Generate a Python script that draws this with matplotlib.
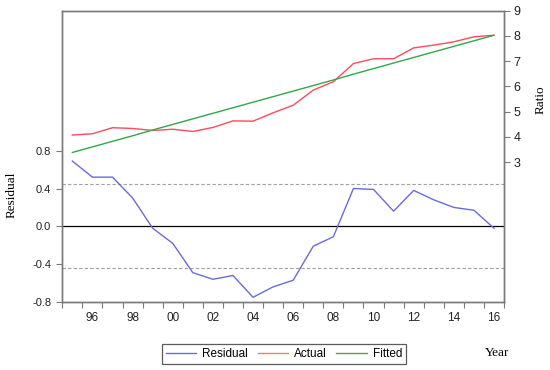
import matplotlib
matplotlib.use("Agg")
import matplotlib.pyplot as plt
from matplotlib.lines import Line2D

# Годы наблюдений
years = list(range(1995, 2017))

# Остатки регрессии (левая ось)
residual = [0.69, 0.52, 0.52, 0.30, -0.02, -0.18, -0.49, -0.56, -0.52, -0.75,
            -0.64, -0.57, -0.21, -0.11, 0.40, 0.39, 0.16, 0.38, 0.28, 0.20,
            0.17, -0.02]

# Фактические и расчётные значения (правая ось)
actual = [4.07, 4.12, 4.36, 4.33, 4.25, 4.30, 4.21, 4.37, 4.63, 4.62,
          4.95, 5.25, 5.85, 6.18, 6.90, 7.09, 7.09, 7.52, 7.63, 7.76,
          7.96, 8.02]
fitted = [3.38, 3.60, 3.82, 4.04, 4.27, 4.49, 4.71, 4.93, 5.15, 5.37,
          5.59, 5.81, 6.03, 6.25, 6.48, 6.70, 6.92, 7.14, 7.36, 7.58,
          7.80, 8.02]

resid_band = 0.443
resid_ticks = [-0.8, -0.4, 0.0, 0.4, 0.8]
ratio_ticks = [3, 4, 5, 6, 7, 8, 9]
year_labels = [1996, 1998, 2000, 2002, 2004, 2006, 2008, 2010, 2012, 2014, 2016]

C_RES = "#6a6ae0"
C_ACT = "#ff4a5c"
C_FIT = "#2fa84a"
C_FRAME = "#7a7a7a"

plt.rcParams["font.family"] = ["Liberation Sans", "DejaVu Sans"]

fig = plt.figure(figsize=(5.5, 3.7), dpi=100)
ax = fig.add_axes([0.1133, 0.1838, 0.8031, 0.7878])
ax2 = ax.twinx()

# остатки
ax.axhline(0.0, color="black", lw=0.9, zorder=1)
ax.axhline(resid_band, color="#a0a0a0", lw=0.8, ls=(0, (3, 2)), zorder=1)
ax.axhline(-resid_band, color="#a0a0a0", lw=0.8, ls=(0, (3, 2)), zorder=1)
ax.plot(years, residual, color=C_RES, lw=1.0, zorder=3)

ax2.plot(years, actual, color=C_ACT, lw=1.0)
ax2.plot(years, fitted, color=C_FIT, lw=1.0)

ax.set_xlim(1994.5, 2016.5)
ax.set_ylim(-0.8, 2.282)
ax2.set_ylim(-2.54, 9.0)

ax.set_yticks(resid_ticks)
ax.set_yticklabels([f"{v:.1f}" for v in resid_ticks])
ax2.set_yticks(ratio_ticks)

# деления по границам лет, подписи по центрам чётных лет
ax.set_xticks([y - 0.5 for y in years] + [years[-1] + 0.5])
ax.set_xticklabels([])
ax.set_xticks(year_labels, minor=True)
ax.set_xticklabels([f"{y % 100:02d}" for y in year_labels], minor=True)
ax.tick_params(axis="x", which="minor", length=0, pad=7, labelsize=8.5,
               labelcolor="#222222")
ax.tick_params(axis="x", which="major", length=4, width=0.8, color=C_FRAME)
ax.tick_params(axis="y", length=4, width=0.8, color=C_FRAME, labelsize=8,
               pad=4, labelcolor="#222222")
ax2.tick_params(axis="y", length=4, width=0.8, color=C_FRAME, labelsize=9,
                pad=3, labelcolor="#222222")

for a in (ax, ax2):
    for s in a.spines.values():
        s.set_color(C_FRAME)
        s.set_linewidth(1.0)

serif = ["Liberation Serif", "DejaVu Serif"]
fig.text(12 / 550, 1 - 195 / 370, "Residual", rotation=90, ha="center",
         va="center", family=serif, fontsize=9.5)
fig.text(541 / 550, 1 - 100 / 370, "Ratio", rotation=90, ha="center",
         va="center", family=serif, fontsize=9.5)
fig.text(497 / 550, 1 - 353 / 370, "Year", ha="center", va="center",
         family=serif, fontsize=9.5)

handles = [Line2D([], [], color=C_RES, lw=1.0),
           Line2D([], [], color="#d98a6a", lw=1.0),
           Line2D([], [], color="#5a9a5a", lw=1.0)]
leg = fig.legend(handles, ["Residual", "Actual", "Fitted"], loc="center",
                 bbox_to_anchor=(284 / 550, 1 - 354 / 370), ncol=3,
                 fontsize=8.5, frameon=True, fancybox=False,
                 handlelength=2.6, handletextpad=0.5, columnspacing=0.8,
                 borderpad=0.35)
leg.get_frame().set_edgecolor("#333333")
leg.get_frame().set_linewidth(0.9)

fig.savefig("out.png", dpi=100)
